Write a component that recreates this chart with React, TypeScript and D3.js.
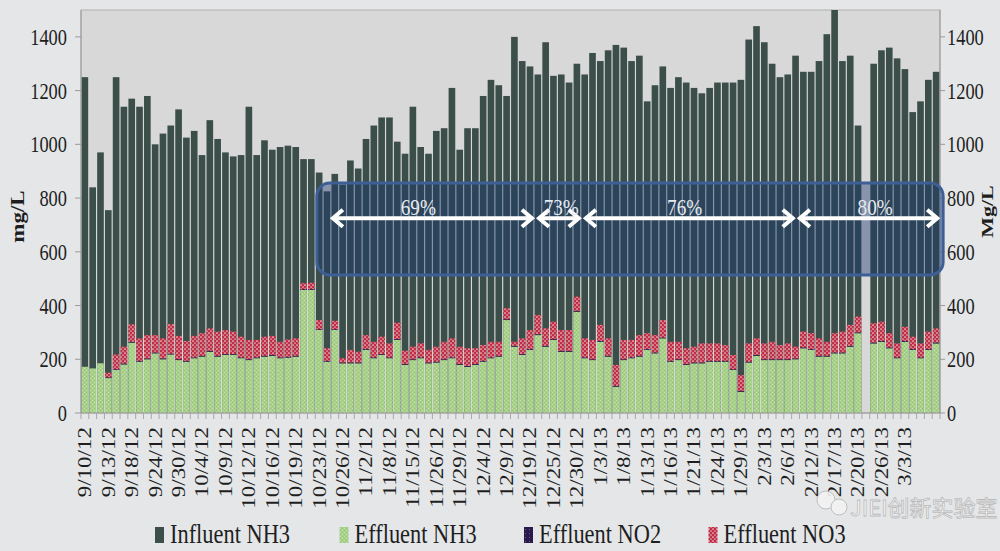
import React from "react";
import * as d3 from "d3";

// ---------- data ----------
const tickLabels = [
  "9/10/12", "9/13/12", "9/18/12", "9/24/12", "9/30/12", "10/4/12", "10/9/12", "10/12/12",
  "10/16/12", "10/19/12", "10/23/12", "10/26/12", "11/2/12", "11/8/12", "11/15/12", "11/26/12",
  "11/29/12", "12/4/12", "12/9/12", "12/19/12", "12/25/12", "12/30/12", "1/3/13", "1/8/13",
  "1/13/13", "1/16/13", "1/21/13", "1/24/13", "1/29/13", "2/3/13", "2/6/13", "2/12/13",
  "2/17/13", "2/20/13", "2/26/13", "3/3/13",
];

const influentNH3: (number | null)[] = [
  1250, 840, 970, 755, 1250, 1140, 1170, 1140, 1180, 1000,
  1040, 1070, 1130, 1025, 1050, 960, 1090, 1020, 970, 955,
  960, 1140, 960, 1015, 980, 990, 995, 990, 945, 945,
  895, 825, 890, 850, 940, 910, 1020, 1070, 1100, 1100,
  1010, 965, 1140, 990, 965, 1050, 1060, 1210, 980, 1060,
  1060, 1180, 1240, 1220, 1180, 1400, 1310, 1290, 1260, 1380,
  1255, 1260, 1230, 1300, 1260, 1340, 1310, 1350, 1370, 1360,
  1310, 1330, 1160, 1220, 1290, 1210, 1250, 1230, 1210, 1190,
  1210, 1230, 1230, 1230, 1240, 1390, 1440, 1380, 1300, 1250,
  1260, 1330, 1270, 1270, 1310, 1410, 1500, 1310, 1330, 1070,
  null, 1300, 1350, 1360, 1320, 1280, 1120, 1160, 1240, 1270,
];

const effluentNH3: (number | null)[] = [
  172, 166, 185, 130, 160, 181, 262, 191, 200, 222,
  200, 218, 197, 191, 204, 210, 228, 210, 216, 216,
  204, 197, 204, 210, 213, 204, 206, 210, 458, 458,
  309, 191, 309, 185, 185, 185, 235, 204, 216, 204,
  272, 179, 197, 204, 185, 188, 197, 204, 179, 172,
  179, 191, 204, 210, 346, 247, 216, 235, 290, 247,
  272, 228, 228, 377, 204, 197, 265, 210, 98, 197,
  204, 210, 235, 222, 278, 191, 197, 179, 185, 185,
  191, 191, 191, 160, 79, 188, 213, 197, 197, 197,
  197, 200, 241, 235, 210, 210, 222, 222, 247, 297,
  null, 259, 265, 241, 204, 265, 235, 204, 235, 259,
];

const effluentNO2: (number | null)[] = [
  0, 0, 0, 3, 3, 3, 3, 3, 3, 3,
  3, 3, 3, 3, 3, 3, 3, 3, 3, 3,
  3, 3, 3, 3, 3, 3, 3, 3, 3, 3,
  3, 3, 3, 3, 3, 3, 3, 3, 3, 3,
  3, 3, 3, 3, 3, 3, 3, 3, 3, 3,
  3, 3, 3, 3, 3, 3, 3, 3, 3, 3,
  3, 3, 3, 3, 3, 3, 3, 3, 3, 3,
  3, 3, 3, 3, 3, 3, 3, 3, 3, 3,
  3, 3, 3, 3, 3, 3, 3, 3, 3, 3,
  3, 3, 3, 3, 3, 3, 3, 3, 3, 3,
  null, 3, 3, 3, 3, 3, 3, 3, 3, 3,
];

const effluentNO3: (number | null)[] = [
  0, 0, 0, 17, 55, 63, 65, 84, 87, 65,
  75, 110, 87, 74, 80, 84, 84, 90, 90, 84,
  77, 72, 65, 71, 71, 58, 65, 65, 22, 24,
  34, 47, 31, 16, 47, 40, 52, 58, 65, 52,
  61, 50, 47, 52, 47, 56, 65, 71, 65, 66,
  59, 59, 58, 52, 41, 15, 59, 71, 72, 65,
  65, 78, 78, 53, 71, 72, 60, 65, 78, 72,
  65, 77, 59, 65, 65, 71, 65, 59, 59, 71,
  65, 65, 59, 53, 59, 68, 62, 59, 65, 53,
  59, 44, 59, 59, 65, 52, 72, 78, 78, 59,
  null, 72, 72, 53, 52, 53, 46, 52, 65, 53,
];

const yTicks = [0, 200, 400, 600, 800, 1000, 1200, 1400];

// removal-efficiency annotation, in category units
const removalSegments = [
  { from: 32, to: 58, labelAt: 43.2, label: "69%" },
  { from: 58.4, to: 64, labelAt: 61.5, label: "73%" },
  { from: 64.4, to: 91.4, labelAt: 77.3, label: "76%" },
  { from: 91.8, to: 109.9, labelAt: 101.7, label: "80%" },
];
const highlightBox = { from: 30.2, to: 110.4, top: 856, bottom: 514 };
const annotationValue = 725;

const legendItems = [
  { key: "inf", label: "Influent NH3" },
  { key: "nh3", label: "Effluent NH3" },
  { key: "no2", label: "Effluent NO2" },
  { key: "no3", label: "Effluent NO3" },
];

// ---------- layout ----------
const W = 1000;
const H = 551;
const PL = 81;
const PR = 940;
const PT = 10;
const PB = 413;
const SQ = 0.8; // horizontal squeeze of the reference's text
const FONT = "'Liberation Serif', 'Times New Roman', serif";

const fills: Record<string, string> = {
  inf: "#3b4e49",
  nh3: "url(#patNH3)",
  no2: "url(#patNO2)",
  no3: "url(#patNO3)",
};

export default function App() {
  const n = influentNH3.length;
  const cats = d3.range(n);
  const x = d3.scaleBand<number>().domain(cats).range([PL, PR]).paddingInner(0.15).paddingOuter(0.07);
  const y = d3.scaleLinear().domain([0, 1500]).range([PB, PT]);
  const xc = d3.scaleLinear().domain([0, n]).range([PL, PR]);
  const bw = x.bandwidth();

  const stackData = cats.map((i) => ({
    i,
    nh3: effluentNH3[i] ?? 0,
    no2: effluentNO2[i] ?? 0,
    no3: effluentNO3[i] ?? 0,
  }));
  const stack = d3.stack<any>().keys(["nh3", "no2", "no3"])(stackData);

  const ay = y(annotationValue);

  return (
    <svg
      width={W}
      height={H}
      style={{ position: "absolute", left: 0, top: 0, display: "block" }}
      fontFamily={FONT}
    >
      <defs>
        <pattern id="patNH3" width={4} height={4} patternUnits="userSpaceOnUse">
          <rect width={4} height={4} fill="#a8d18a" />
          <rect x={0} y={0} width={1} height={1} fill="#c4e0aa" />
          <rect x={2} y={2} width={1} height={1} fill="#c4e0aa" />
          <rect x={2} y={0} width={1} height={1} fill="#96c476" />
          <rect x={0} y={2} width={1} height={1} fill="#96c476" />
        </pattern>
        <pattern id="patNO3" width={4} height={4} patternUnits="userSpaceOnUse">
          <rect width={4} height={4} fill="#c02e46" />
          <circle cx={1} cy={1} r={0.85} fill="#f0d2d6" />
          <circle cx={3} cy={3} r={0.85} fill="#e4b0b8" />
        </pattern>
        <pattern id="patNO2" width={4} height={4} patternUnits="userSpaceOnUse">
          <rect width={4} height={4} fill="#2a1b4d" />
          <rect x={1} y={1} width={1} height={1} fill="#6a5a90" />
        </pattern>
      </defs>

      <rect width={W} height={H} fill="#e4e6e8" />
      <rect x={PL} y={PT} width={PR - PL} height={PB - PT} fill="#d8d8d8" stroke="#b0b0b0" strokeWidth={1} />

      {/* influent bars */}
      {cats.map((i) =>
        influentNH3[i] == null ? null : (
          <rect key={"inf" + i} x={x(i)} y={y(influentNH3[i] as number)} width={bw}
            height={PB - y(influentNH3[i] as number)} fill={fills.inf} />
        )
      )}

      {/* effluent stacks */}
      {stack.map((s) => (
        <g key={s.key} fill={fills[s.key as string]}>
          {s.map((d, j) => {
            const i = cats[j];
            if (effluentNH3[i] == null) return null;
            const h = y(d[0]) - y(d[1]);
            if (h <= 0) return null;
            return <rect key={j} x={x(i)} y={y(d[1])} width={bw} height={h} />;
          })}
        </g>
      ))}

      {/* left axis */}
      <line x1={PL} x2={PL} y1={PT} y2={PB} stroke="#9a9a9a" />
      {yTicks.map((t) => (
        <g key={"yl" + t}>
          <line x1={PL - 6} x2={PL} y1={y(t)} y2={y(t)} stroke="#9a9a9a" />
          <text transform={`translate(${PL - 14},${y(t)}) scale(${SQ},1)`} textAnchor="end" dy="0.35em"
            fontSize={23} fill="#1e1e1e">{t}</text>
        </g>
      ))}
      {/* right axis */}
      <line x1={PR} x2={PR} y1={PT} y2={PB} stroke="#9a9a9a" />
      {yTicks.map((t) => (
        <g key={"yr" + t}>
          <line x1={PR} x2={PR + 5} y1={y(t)} y2={y(t)} stroke="#9a9a9a" />
          <text transform={`translate(${PR + 7},${y(t)}) scale(${SQ},1)`} textAnchor="start" dy="0.35em"
            fontSize={23} fill="#1e1e1e">{t}</text>
        </g>
      ))}
      <text transform={`translate(18,${(PT + PB) / 2 + 5}) scale(${SQ},1) rotate(-90)`} textAnchor="middle"
        dy="0.35em" fontSize={23} fontWeight="bold" fill="#1e1e1e">mg/L</text>
      <text transform={`translate(987,${(PT + PB) / 2}) scale(${SQ},1) rotate(-90)`} textAnchor="middle"
        dy="0.35em" fontSize={22} fontWeight="bold" fill="#1e1e1e">Mg/L</text>

      {/* x axis */}
      <line x1={PL} x2={PR} y1={PB} y2={PB} stroke="#9a9a9a" />
      {d3.range(n + 1).map((k) => (
        <line key={"xt" + k} x1={xc(k)} x2={xc(k)} y1={PB} y2={PB + 6} stroke="#a8a8a8" />
      ))}
      {cats.map((i) =>
        i % 3 === 0 && tickLabels[i / 3] ? (
          <text key={"xl" + i}
            transform={`translate(${(x(i) as number) + bw / 2},${PB + 14}) scale(${SQ},1) rotate(-90)`}
            textAnchor="end" dy="0.35em" fontSize={23} fill="#1e1e1e">{tickLabels[i / 3]}</text>
        ) : null
      )}

      {/* highlight box */}
      <rect x={xc(highlightBox.from)} y={y(highlightBox.top)} width={xc(highlightBox.to) - xc(highlightBox.from)}
        height={y(highlightBox.bottom) - y(highlightBox.top)} rx={13} ry={13}
        fill="#18376f" fillOpacity={0.42} stroke="#3d5f96" strokeWidth={3} />

      {/* arrows */}
      {removalSegments.map((s) => {
        const x1 = xc(s.from);
        const x2 = xc(s.to);
        return (
          <g key={s.label} stroke="#ffffff" strokeWidth={4} fill="none" strokeLinejoin="miter">
            <line x1={x1 + 2} x2={x2 - 2} y1={ay} y2={ay} />
            <polyline points={`${x1 + 12},${ay - 8.5} ${x1 + 2},${ay} ${x1 + 12},${ay + 8.5}`} />
            <polyline points={`${x2 - 12},${ay - 8.5} ${x2 - 2},${ay} ${x2 - 12},${ay + 8.5}`} />
          </g>
        );
      })}
      {removalSegments.map((s) => (
        <text key={"t" + s.label} transform={`translate(${xc(s.labelAt)},${ay - 3}) scale(${SQ},1)`}
          textAnchor="middle" fontSize={24} fill="#e4eaf0">{s.label}</text>
      ))}

      {/* legend */}
      {legendItems.map((it, k) => {
        const lx = 155 + k * 184.5;
        return (
          <g key={it.key}>
            <rect x={lx} y={527} width={9} height={16} fill={fills[it.key]} />
            <text transform={`translate(${lx + 15},543) scale(${SQ},1)`} fontSize={28} fill="#1e1e1e">{it.label}</text>
          </g>
        );
      })}

      {/* watermark */}
      <g opacity={0.85}>
        <circle cx={826} cy={500} r={9} fill="#f4f4f4" stroke="#b8b8b8" strokeWidth={1} />
        <circle cx={839} cy={507} r={8} fill="#f4f4f4" stroke="#b8b8b8" strokeWidth={1} />
        <text x={850} y={516} fontSize={22} fontFamily="'Noto Sans CJK SC', sans-serif" fill="#ffffff"
          stroke="#b4b4b4" strokeWidth={0.8}>JIEI创新实验室</text>
      </g>
    </svg>
  );
}
